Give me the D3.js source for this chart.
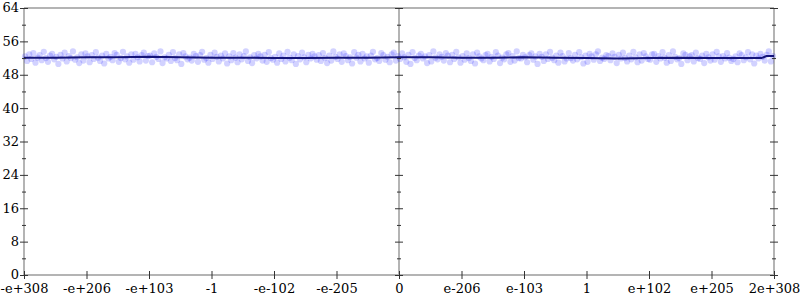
<!DOCTYPE html>
<html>
<head>
<meta charset="utf-8">
<script src="https://cdn.jsdelivr.net/npm/d3@7"></script>
<style>
  body { margin: 0; background: #fff; }
  svg text { font-family: "DejaVu Serif", serif; font-size: 13px; fill: #000; }
</style>
</head>
<body>
<div id="chart"></div>
<script>
// x axis is an ordinal position over the flonums, 12 equal steps
var xTickLabels = ["-e+308", "-e+206", "-e+103", "-1", "-e-102", "-e-205", "0",
                   "e-206", "e-103", "1", "e+102", "e+205", "2e+308"];
var yMajor = [0, 8, 16, 24, 32, 40, 48, 56, 64];
var yMinor = [4, 12, 20, 28, 36, 44, 52, 60];

var samples = [
  52.4, 51.3, 52.9, 51.8, 53.2, 50.9, 52.1, 52.7, 51.5, 53.5, 52.0, 51.1, 52.6, 53.0, 51.7, 52.3, 50.6, 52.8, 51.9, 53.3,
  51.2, 52.5, 52.0, 53.6, 51.6, 52.2, 50.8, 52.9, 51.4, 53.1, 52.4, 51.0, 52.7, 51.8, 53.4, 52.1, 51.3, 52.6, 50.7, 53.0,
  51.9, 52.3, 51.5, 53.2, 52.8, 51.1, 52.0, 53.5, 51.7, 52.4, 50.9, 52.9, 51.6, 53.0, 52.2, 51.2, 52.7, 53.3, 51.4, 52.5,
  52.6, 51.0, 53.1, 52.3, 51.8, 53.6, 50.8, 52.2, 51.9, 52.8, 51.3, 53.4, 52.0, 51.5, 52.9, 50.6, 53.2, 52.4, 51.7, 52.1,
  51.4, 53.0, 52.5, 51.1, 52.7, 53.5, 51.6, 52.0, 50.9, 52.8, 51.8, 53.3, 52.3, 51.2, 52.6, 51.9, 53.1, 50.7, 52.4, 51.5,
  53.2, 52.1, 51.0, 52.9, 51.7, 52.5, 53.6, 51.3, 52.2, 50.8, 52.7, 51.9, 53.0, 52.4, 51.4, 52.8, 51.1, 53.4, 52.0, 51.6,
  52.3, 50.9, 53.1, 51.8, 52.6, 51.2, 53.5, 52.1, 51.5, 52.9, 50.6, 52.5, 51.7, 53.3, 52.2, 51.0, 52.8, 51.9, 53.0, 52.4,
  51.6, 52.7, 51.3, 53.2, 52.0, 50.8, 52.6, 51.4, 53.6, 52.3, 51.8, 52.9, 51.1, 53.1, 52.5, 51.5, 52.2, 50.7, 53.4, 52.1,
  52.8, 51.2, 53.0, 51.9, 52.4, 50.9, 52.6, 53.5, 51.7, 52.0, 51.3, 53.2, 52.7, 51.6, 52.3, 51.0, 52.9, 53.3, 51.4, 52.5,
  51.8, 53.1, 52.2, 51.1, 52.8, 50.6, 53.4, 52.0, 51.5, 52.6, 53.0, 51.9, 52.4, 50.8, 52.7, 51.2, 53.6, 52.1, 51.7, 52.9,
  52.3, 51.4, 53.2, 52.6, 51.0, 52.8, 51.8, 53.5, 52.2, 50.9, 52.5, 51.6, 53.1, 52.0, 51.3, 52.9, 50.7, 53.3, 52.4, 51.9,
  51.5, 52.7, 53.0, 51.2, 52.3, 51.8, 53.4, 52.6, 50.8, 52.1, 51.7, 52.9, 53.2, 51.1, 52.5, 51.4, 53.6, 52.0, 51.9, 52.8,
  52.2, 51.0, 52.7, 53.1, 51.6, 52.4, 50.6, 53.0, 52.3, 51.3, 52.9, 51.8, 53.5, 52.1, 51.5, 52.6, 50.9, 53.3, 52.5, 51.2,
  51.9, 53.2, 52.0, 51.4, 52.8, 51.7, 53.4, 52.2, 50.7, 52.6, 51.1, 53.0, 52.4, 51.6, 52.9, 53.6, 51.3, 52.1, 51.8, 52.7,
  52.5, 51.5, 53.1, 52.3, 50.8, 52.8, 51.9, 53.3, 52.0, 51.2, 52.6, 51.7, 53.5, 52.2, 51.0, 52.9, 51.4, 53.2, 52.4, 51.8,
  51.6, 52.9, 53.0, 51.1, 52.5, 51.9, 53.4, 52.1, 50.9, 52.7, 51.3, 53.6, 52.3, 51.7, 52.0, 50.6, 53.1, 52.8, 51.5, 52.4,
  52.7, 51.2, 53.3, 52.0, 51.8, 52.6, 50.8, 53.0, 52.2, 51.4, 52.9, 51.6, 53.5, 52.4, 51.1, 52.5, 51.9, 53.2, 52.1, 51.3,
  51.8, 52.4, 51.0, 53.1, 52.7, 51.5, 52.2, 53.4, 51.7, 52.9, 50.7, 52.6, 51.9, 53.0, 52.3, 51.4, 52.8, 53.6, 51.2, 52.5
];

// running mean (dark line)
var meanX = [0, 0.5, 1, 1.5, 2, 2.5, 3, 3.5, 4, 4.5, 5, 5.5, 6, 6.5, 7, 7.5, 8, 8.5, 9, 9.5, 10, 10.5, 11, 11.5, 11.8, 11.88, 12];
var meanY = [52.1, 52.1, 52.2, 52.2, 52.3, 52.2, 52.1, 52.1, 52.0, 52.0, 52.1, 52.1, 52.2, 52.2, 52.1, 52.1, 52.2, 52.1, 52.0, 51.9, 52.0, 52.1, 52.0, 52.0, 52.0, 52.5, 52.5];

var W = 800, H = 300;
var margin = {top: 8, right: 26, bottom: 25, left: 24};

var svg = d3.select("#chart").append("svg")
  .attr("width", W)
  .attr("height", H);

var x = d3.scaleLinear()
  .domain([0, xTickLabels.length - 1])
  .range([margin.left, W - margin.right]);

var y = d3.scaleLinear()
  .domain([0, 64])
  .range([H - margin.bottom, margin.top]);

var axisGrey = "#b4b4b4";
var tickDark = "#333";

// frame: top border and bottom axis line
svg.append("line")
  .attr("x1", x(0)).attr("x2", x(12))
  .attr("y1", y(64)).attr("y2", y(64))
  .attr("stroke", axisGrey).attr("stroke-width", 2);
svg.append("line")
  .attr("x1", x(0)).attr("x2", x(12))
  .attr("y1", y(0)).attr("y2", y(0))
  .attr("stroke", axisGrey).attr("stroke-width", 2);

// vertical axes at left, zero and right
[0, 6, 12].forEach(function(pos) {
  svg.append("line")
    .attr("x1", x(pos)).attr("x2", x(pos))
    .attr("y1", y(0)).attr("y2", y(64))
    .attr("stroke", axisGrey).attr("stroke-width", 2);
});

// points
svg.append("g")
  .selectAll("circle")
  .data(samples)
  .join("circle")
  .attr("cx", function(d, i) { return x((i + 0.5) / samples.length * 12); })
  .attr("cy", function(d) { return y(d); })
  .attr("r", 3.1)
  .attr("fill", "#2020ff")
  .attr("fill-opacity", 0.2);

// mean line
var line = d3.line()
  .x(function(d) { return x(d[0]); })
  .y(function(d) { return y(d[1]); });

svg.append("path")
  .datum(meanX.map(function(v, i) { return [v, meanY[i]]; }))
  .attr("fill", "none")
  .attr("stroke", "#14147a")
  .attr("stroke-width", 2)
  .attr("d", line);

// y ticks, crossing each vertical axis
function yTicks(pos, labels) {
  var g = svg.append("g").attr("transform", "translate(" + x(pos) + ",0)");
  g.append("g").call(d3.axisLeft(y).tickValues(yMajor).tickSize(4)
    .tickFormat(labels ? d3.format("d") : ""));
  g.append("g").call(d3.axisRight(y).tickValues(yMajor).tickSize(4).tickFormat(""));
  g.append("g").call(d3.axisLeft(y).tickValues(yMinor).tickSize(2).tickFormat(""));
  g.append("g").call(d3.axisRight(y).tickValues(yMinor).tickSize(2).tickFormat(""));
  g.selectAll(".domain").remove();
  g.selectAll(".tick line").attr("stroke", tickDark);
  g.selectAll(".tick text").attr("x", -5).attr("dy", "0.3em")
    .style("font-family", "DejaVu Serif").style("font-size", "13px");
}
yTicks(0, true);
yTicks(6, false);
yTicks(12, false);

// x ticks
var xg = svg.append("g").attr("transform", "translate(0," + y(0) + ")");
xg.append("g").call(d3.axisBottom(x).tickValues(d3.range(xTickLabels.length)).tickSize(4)
  .tickFormat(function(d) { return xTickLabels[d]; }));
xg.append("g").call(d3.axisTop(x).tickValues(d3.range(xTickLabels.length)).tickSize(4).tickFormat(""));
xg.selectAll(".domain").remove();
xg.selectAll(".tick line").attr("stroke", tickDark);
xg.selectAll(".tick text").attr("y", 9)
  .style("font-family", "DejaVu Serif").style("font-size", "13px");
</script>
</body>
</html>
